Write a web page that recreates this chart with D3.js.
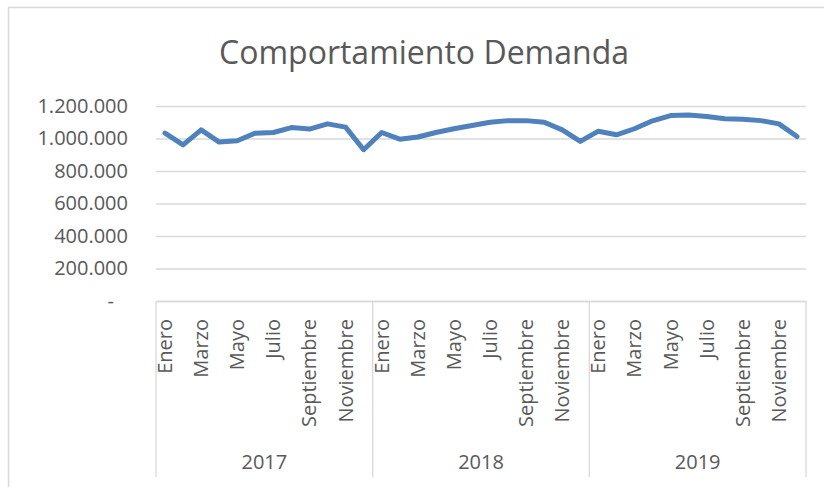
<!DOCTYPE html>
<html>
<head>
<meta charset="utf-8">
<script src="https://cdn.jsdelivr.net/npm/d3@7"></script>
<style>
  body { margin: 0; background: #fff; }
  text { font-family: "Open Sans", sans-serif; fill: #595959; }
</style>
</head>
<body>
<div class="chart"></div>
<script>
var years = ["2017", "2018", "2019"];
var months = ["Enero", "Febrero", "Marzo", "Abril", "Mayo", "Junio", "Julio",
  "Agosto", "Septiembre", "Octubre", "Noviembre", "Diciembre"];

// demanda mensual
var demand2017 = [1033000, 961000, 1053000, 978000, 986000, 1033000, 1037000, 1067000, 1058000, 1090000, 1070000, 931000];
var demand2018 = [1037000, 996000, 1009000, 1037000, 1060000, 1080000, 1100000, 1110000, 1110000, 1100000, 1053000, 982000];
var demand2019 = [1045000, 1023000, 1060000, 1109000, 1141000, 1145000, 1135000, 1121000, 1119000, 1110000, 1090000, 1012000];
var yTicks = [0, 200000, 400000, 600000, 800000, 1000000, 1200000];

var svgWidth = 824;
var svgHeight = 487;

var margin = {
  top: 106,
  right: 18,
  bottom: 186,
  left: 156
};

var width = svgWidth - margin.left - margin.right;
var height = svgHeight - margin.top - margin.bottom;

var svg = d3.select(".chart")
  .append("svg")
  .attr("width", svgWidth)
  .attr("height", svgHeight);

// chart frame
svg.append("rect")
  .attr("x", 8.5)
  .attr("y", 7.5)
  .attr("width", svgWidth)
  .attr("height", svgHeight)
  .attr("fill", "none")
  .attr("stroke", "#d9d9d9")
  .attr("stroke-width", 1.5);

svg.append("text")
  .attr("x", 424)
  .attr("y", 64)
  .attr("text-anchor", "middle")
  .attr("font-size", "32px")
  .text("Comportamiento Demanda");

var chartGroup = svg.append("g")
  .attr("transform", `translate(${margin.left}, ${margin.top})`);

var series = [demand2017, demand2018, demand2019];
var data = [];
years.forEach(function(y, i) {
  months.forEach(function(m, j) {
    data.push({ key: y + "-" + j, year: y, month: m, idx: j, value: series[i][j] });
  });
});

var xScale = d3.scaleBand()
  .domain(data.map(d => d.key))
  .range([0, width])
  .padding(0);

var yScale = d3.scaleLinear()
  .domain([0, 1200000])
  .range([height, 0]);

var fmt = function(v) {
  if (v === 0) return "-";
  return d3.format(",")(v).replace(/,/g, ".");
};

// gridlines + y labels
var leftAxis = d3.axisLeft(yScale)
  .tickValues(yTicks)
  .tickSize(-width)
  .tickFormat(fmt);

var yAxisG = chartGroup.append("g").call(leftAxis);
yAxisG.select(".domain").remove();
yAxisG.selectAll("line")
  .attr("stroke", "#d9d9d9")
  .attr("stroke-width", 1.3);
yAxisG.selectAll("text")
  .attr("x", d => d === 0 ? -42 : -28)
  .attr("font-size", "20px")
  .attr("fill", "#595959");

// category axis: month labels (every other one, as Excel does)
var bottomAxis = d3.axisBottom(xScale)
  .tickSize(0)
  .tickFormat(function(k) {
    var d = data.find(e => e.key === k);
    return d.idx % 2 === 0 ? d.month : "";
  });

var xAxisG = chartGroup.append("g")
  .attr("transform", `translate(0, ${height})`)
  .call(bottomAxis);
xAxisG.select(".domain")
  .attr("stroke", "#d9d9d9")
  .attr("stroke-width", 1.3);
xAxisG.selectAll("text")
  .attr("transform", "rotate(-90)")
  .attr("x", -18)
  .attr("y", 0)
  .attr("dy", "0.35em")
  .attr("text-anchor", "end")
  .attr("font-size", "20px")
  .attr("fill", "#595959");

// year group separators
var bounds = years.map(y => xScale(y + "-0")).concat([width]);
chartGroup.selectAll(".sep")
  .data(bounds)
  .enter()
  .append("line")
  .attr("class", "sep")
  .attr("x1", d => d)
  .attr("x2", d => d)
  .attr("y1", height)
  .attr("y2", height + 176)
  .attr("stroke", "#d9d9d9")
  .attr("stroke-width", 1.3);

chartGroup.selectAll(".year")
  .data(years)
  .enter()
  .append("text")
  .attr("class", "year")
  .attr("x", d => xScale(d + "-0") + xScale.bandwidth() * 6)
  .attr("y", height + 168)
  .attr("text-anchor", "middle")
  .attr("font-size", "20px")
  .text(d => d);

// demand line
var line = d3.line()
  .x(d => xScale(d.key) + xScale.bandwidth() / 2)
  .y(d => yScale(d.value));

chartGroup.append("path")
  .datum(data)
  .attr("d", line)
  .attr("fill", "none")
  .attr("stroke", "#4f81bd")
  .attr("stroke-width", 5)
  .attr("stroke-linejoin", "round")
  .attr("stroke-linecap", "round");
</script>
</body>
</html>
